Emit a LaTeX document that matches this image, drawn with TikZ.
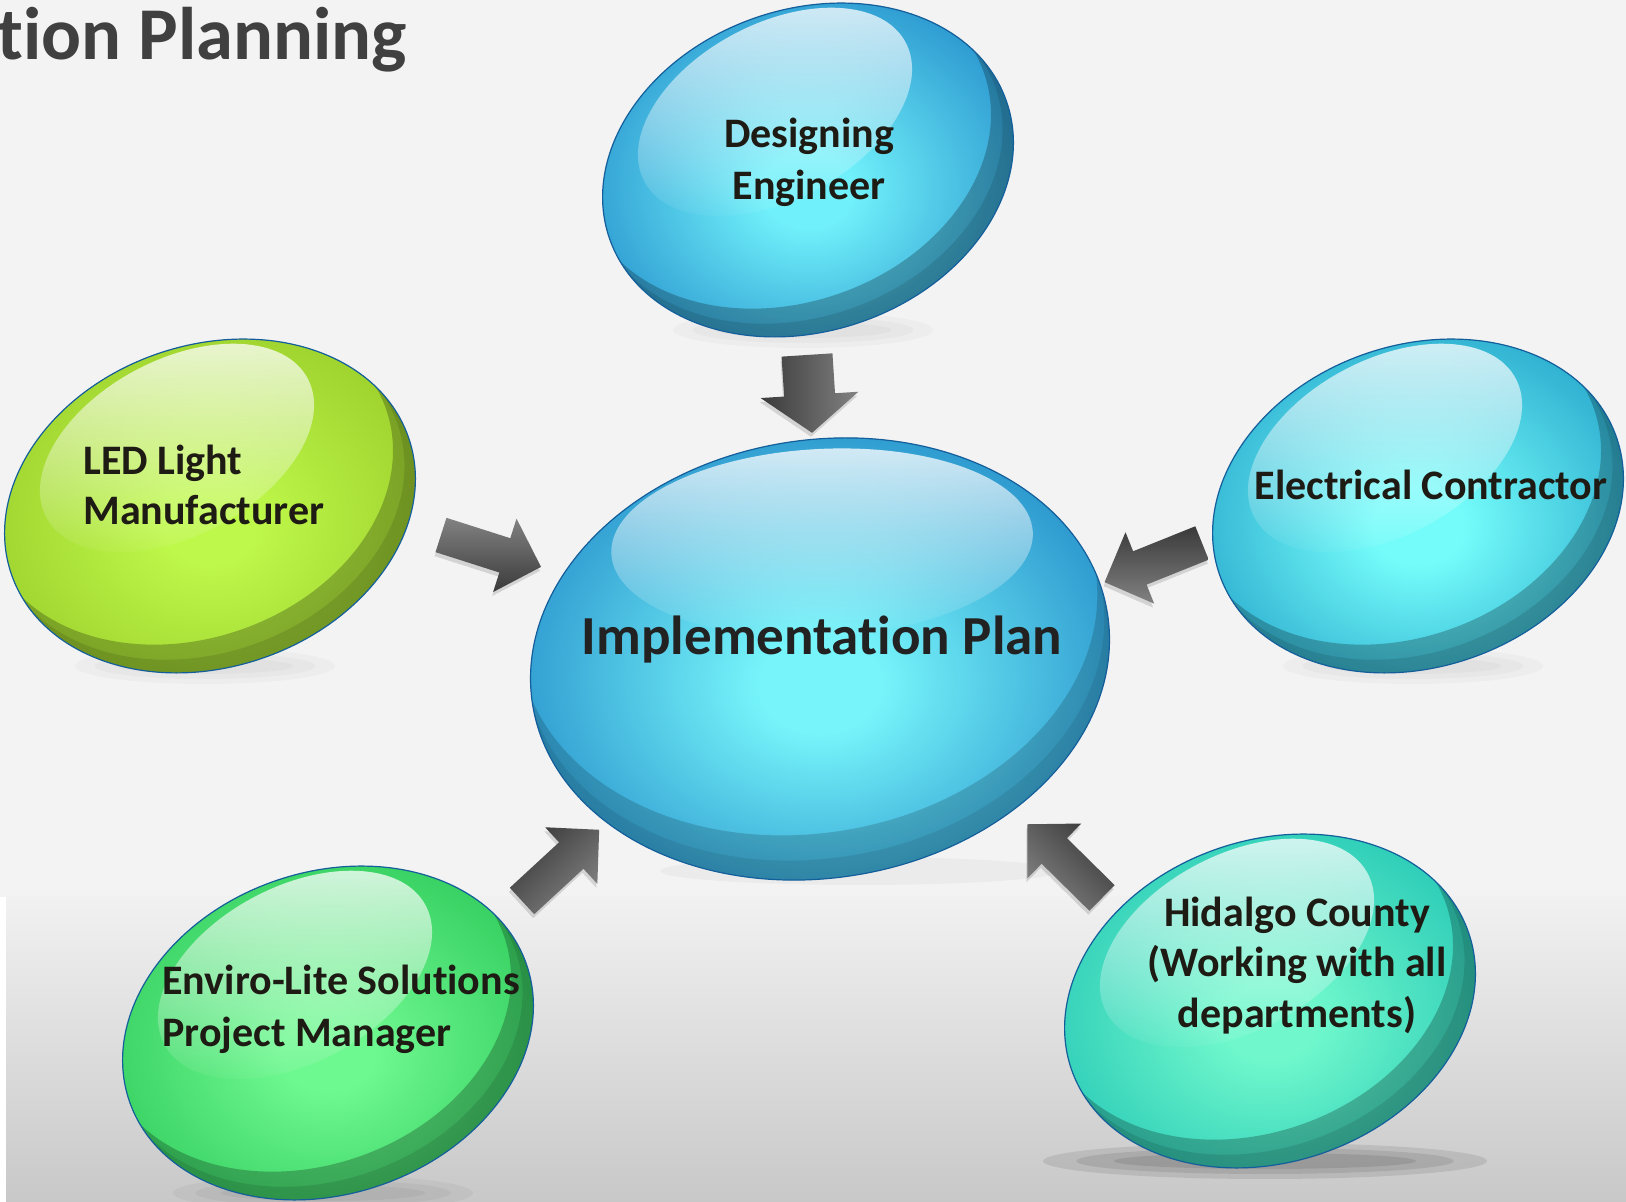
\documentclass[tikz,border=0pt]{standalone}
\usepackage{fontspec}
\setmainfont{Carlito}[Ligatures={NoCommon}]
\usetikzlibrary{fadings}
\newcommand\nti{t\kern0pt i}
\definecolor{bg}{RGB}{243,243,243}
\definecolor{bgA}{RGB}{241,241,241}
\definecolor{bgB}{RGB}{200,200,200}
\definecolor{txt}{RGB}{30,26,20}
\definecolor{ptxt}{RGB}{34,34,34}
\definecolor{ttlc}{RGB}{64,64,64}
\definecolor{adark}{RGB}{58,58,58}
\definecolor{alight}{RGB}{130,130,130}
\definecolor{bline}{RGB}{20,95,155}
\definecolor{deE}{RGB}{31,136,200}\definecolor{deC}{RGB}{112,240,250}
\definecolor{plE}{RGB}{30,134,198}\definecolor{plC}{RGB}{118,244,250}
\definecolor{ecE}{RGB}{32,160,200}\definecolor{ecC}{RGB}{116,252,250}
\definecolor{ledE}{RGB}{152,202,40}\definecolor{ledC}{RGB}{190,248,74}
\definecolor{enE}{RGB}{44,200,88}\definecolor{enC}{RGB}{110,248,144}
\definecolor{hcE}{RGB}{32,196,180}\definecolor{hcC}{RGB}{112,248,204}
\pgfdeclareradialshading{shde}{\pgfpoint{0bp}{-3bp}}{color(0bp)=(deC); color(5bp)=(deC); color(30bp)=(deE); color(50bp)=(deE)}
\pgfdeclareradialshading{shpl}{\pgfpoint{0bp}{-3bp}}{color(0bp)=(plC); color(5bp)=(plC); color(30bp)=(plE); color(50bp)=(plE)}
\pgfdeclareradialshading{shec}{\pgfpoint{0bp}{-3bp}}{color(0bp)=(ecC); color(5bp)=(ecC); color(30bp)=(ecE); color(50bp)=(ecE)}
\pgfdeclareradialshading{shled}{\pgfpoint{0bp}{-3bp}}{color(0bp)=(ledC); color(5bp)=(ledC); color(30bp)=(ledE); color(50bp)=(ledE)}
\pgfdeclareradialshading{shen}{\pgfpoint{0bp}{-3bp}}{color(0bp)=(enC); color(5bp)=(enC); color(30bp)=(enE); color(50bp)=(enE)}
\pgfdeclareradialshading{shhc}{\pgfpoint{0bp}{-3bp}}{color(0bp)=(hcC); color(5bp)=(hcC); color(30bp)=(hcE); color(50bp)=(hcE)}
\tikzfading[name=hlfade, top color=transparent!20, bottom color=transparent!100]
\tikzset{
  lbl/.style={font=\fontsize{21}{25}\selectfont\bfseries, text=txt, inner sep=0pt},
  plbl/.style={font=\fontsize{27.5}{33}\selectfont\bfseries, text=ptxt, inner sep=0pt},
  ttl/.style={font=\fontsize{37.25}{44}\selectfont\bfseries, text=ttlc, inner sep=0pt},
  bubbleline/.style={draw=bline, line width=0.6pt},
  arrowshadow/.style={fill=black, opacity=0.13}
}
% side bubble: #1 centre, #2 shading, #3 shadow opacity, #4 shadow x radius
\newcommand\sidebubble[4]{%
  \begin{scope}[shift={(#1)}]
    \fill[black, opacity=#3] (-5,-160) ellipse [x radius=#4, y radius=18];
    \fill[black, opacity=#3] (-5,-160) ellipse [x radius=0.85*#4, y radius=13];
    \fill[black, opacity=#3] (-5,-160) ellipse [x radius=0.68*#4, y radius=8];
    \begin{scope}[rotate=19]
      \shade[shading=#2] (0,0) ellipse [x radius=210, y radius=161];
      \begin{scope}
        \clip (0,0) ellipse [x radius=210, y radius=161];
        \fill[black, opacity=.10, even odd rule] (0,0) ellipse [x radius=210, y radius=161] (-6,16) ellipse [x radius=210, y radius=161];
        \fill[black, opacity=.24, even odd rule] (0,0) ellipse [x radius=210, y radius=161] (-12,34) ellipse [x radius=210, y radius=161];
      \end{scope}
    \end{scope}
    \begin{scope}[shift={(-33,58)}, rotate=28]
      \fill[white, path fading=hlfade] (0,0) ellipse [x radius=148, y radius=88];
    \end{scope}
    \draw[bubbleline, rotate=19] (0,0) ellipse [x radius=210, y radius=161];
  \end{scope}}
% block arrow: #1 tail, #2 angle, #3 length, #4 shaft width, #5 head width, #6 shading
\newcommand\barrow[6]{%
  \pgfmathsetmacro\barL{#3}\pgfmathsetmacro\barB{#3-38}%
  \pgfmathsetmacro\barw{#4/2}\pgfmathsetmacro\barH{#5/2}%
  \fill[arrowshadow, shift={(#1)}, xshift=-0.5pt, yshift=-2pt, rotate=#2] (0,-\barw) -- (\barB,-\barw) -- (\barB,-\barH) -- (\barL,0) -- (\barB,\barH) -- (\barB,\barw) -- (0,\barw) -- cycle;
  \shade[#6, shift={(#1)}, rotate=#2] (0,-\barw) -- (\barB,-\barw) -- (\barB,-\barH) -- (\barL,0) -- (\barB,\barH) -- (\barB,\barw) -- (0,\barw) -- cycle;}
\begin{document}
\begin{tikzpicture}[x=0.5pt,y=0.5pt]
\useasboundingbox (0,0) rectangle (1626,1202);
\fill[bg] (0,0) rectangle (1626,1202);
\fill[white] (0,0) rectangle (6,305);
\shade[top color=bgA, bottom color=bgB] (6,0) rectangle (1626,305);

\coordinate (cDE) at (808,1032);
\coordinate (cLED) at (210,696);
\coordinate (cEC) at (1418,696);
\coordinate (cEN) at (328,169);
\coordinate (cHC) at (1270,201);
\coordinate (cPL) at (820,543);

% centre bubble
\begin{scope}[shift={(cPL)}]
  \fill[black, opacity=.03] (40,-212) ellipse [x radius=200, y radius=14];
  \begin{scope}[rotate=9]
    \shade[shading=shpl] (0,0) ellipse [x radius=291, y radius=219];
    \begin{scope}
      \clip (0,0) ellipse [x radius=291, y radius=219];
      \fill[black, opacity=.08, even odd rule] (0,0) ellipse [x radius=291, y radius=219] (-2,20) ellipse [x radius=291, y radius=219];
      \fill[black, opacity=.16, even odd rule] (0,0) ellipse [x radius=291, y radius=219] (-5,46) ellipse [x radius=291, y radius=219];
    \end{scope}
  \end{scope}
  \begin{scope}[shift={(2,116)}, rotate=3]
    \fill[white, path fading=hlfade] (0,0) ellipse [x radius=211, y radius=94];
  \end{scope}
  \draw[bubbleline, rotate=9] (0,0) ellipse [x radius=291, y radius=219];
\end{scope}

\sidebubble{cDE}{shde}{0.025}{130}
\sidebubble{cLED}{shled}{0.025}{130}
\sidebubble{cEC}{shec}{0.025}{130}
\sidebubble{cEN}{shen}{0.04}{150}
\sidebubble{cHC}{shhc}{0.09}{222}

% labels
\node[ttl, anchor=base west] (ttl) at (-3,1142) {\nti on Planning};
\node[lbl, anchor=base] (deA) at (809,1054) {Designing};
\node[lbl, anchor=base] (deB) at (809,1002) {Engineer};
\node[lbl, anchor=base west] (ledA) at (83,727) {LED Light};
\node[lbl, anchor=base west] (ledB) at (83,677) {Manufacturer};
\node[lbl, anchor=base] (ec) at (1431,702) {Electrical Contractor};
\node[lbl, anchor=base west] (enA) at (162,207) {Enviro-Lite Solu\nti ons};
\node[lbl, anchor=base west] (enB) at (162,155) {Project Manager};
\node[lbl, anchor=base] (hcA) at (1297,275) {Hidalgo County};
\node[lbl, anchor=base] (hcB) at (1297,225) {(Working with all};
\node[lbl, anchor=base] (hcC) at (1297,174) {departments)};
\node[plbl, anchor=base] (pl) at (822,547) {Implementa\nti on Plan};

% block arrows
\coordinate (tDE) at (807,847);
\coordinate (tLED) at (441,667);
\coordinate (tEC) at (1202,659);
\coordinate (tEN) at (522,301);
\coordinate (tHC) at (1102,304);
\barrow{tDE}{-86.3}{78}{51}{98}{left color=adark, right color=alight}
\barrow{tLED}{-17.7}{105}{36}{77}{top color=alight, bottom color=adark}
\barrow{tEC}{-158.1}{105}{36}{77}{top color=adark, bottom color=alight}
\barrow{tEN}{42.7}{105}{36}{77}{top color=adark, bottom color=alight, shading angle=45}
\barrow{tHC}{135.4}{105}{36}{77}{top color=adark, bottom color=alight, shading angle=-45}
\end{tikzpicture}
\end{document}
